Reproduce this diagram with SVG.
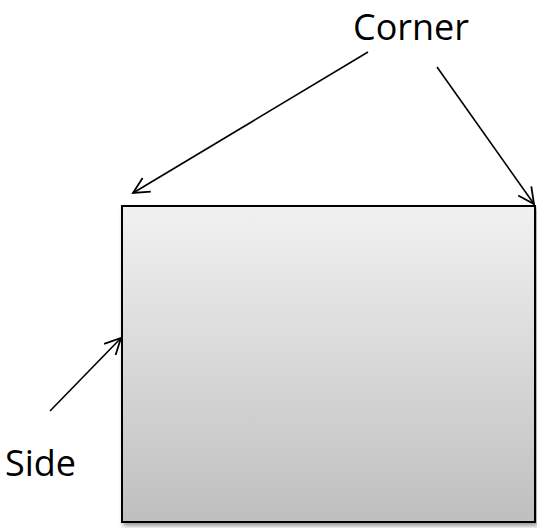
<svg xmlns="http://www.w3.org/2000/svg" width="537" height="528" viewBox="0 0 537 528">
<style>
.lbl{font-family:"Open Sans","DejaVu Sans",sans-serif;font-size:36px;fill:#000}
.conn line{stroke:#000;stroke-width:1.6;fill:none}
</style>
<defs>
<linearGradient id="g" x1="0" y1="0" x2="0" y2="1">
<stop offset="0" stop-color="#f1f1f1"/>
<stop offset="1" stop-color="#bfbfbf"/>
</linearGradient>
<filter id="sh" x="-5%" y="-5%" width="115%" height="115%">
<feGaussianBlur in="SourceAlpha" stdDeviation="2"/>
<feOffset dx="2" dy="3"/>
<feComponentTransfer><feFuncA type="linear" slope="0.4"/></feComponentTransfer>
<feMerge><feMergeNode/><feMergeNode in="SourceGraphic"/></feMerge>
</filter>
<marker id="a" viewBox="0 0 20 20" refX="18" refY="10" markerWidth="20" markerHeight="20" markerUnits="userSpaceOnUse" orient="auto">
<path d="M2,2 L18,10 L2,18" fill="none" stroke="#000" stroke-width="1.8"/>
</marker>
</defs>
<g id="rect">
<rect x="122" y="206" width="413" height="316" fill="url(#g)" stroke="#000" stroke-width="2" filter="url(#sh)"/>
</g>
<g id="corner-label"><text class="lbl" x="353" y="40">Corner</text></g>
<g id="side-label"><text class="lbl" x="5" y="476">Side</text></g>
<g class="conn" id="connectors">
<line x1="368" y1="52" x2="133" y2="193" marker-end="url(#a)"/>
<line x1="437" y1="67" x2="534" y2="204" marker-end="url(#a)"/>
<line x1="50" y1="411" x2="121" y2="338" marker-end="url(#a)"/>
</g>
</svg>
